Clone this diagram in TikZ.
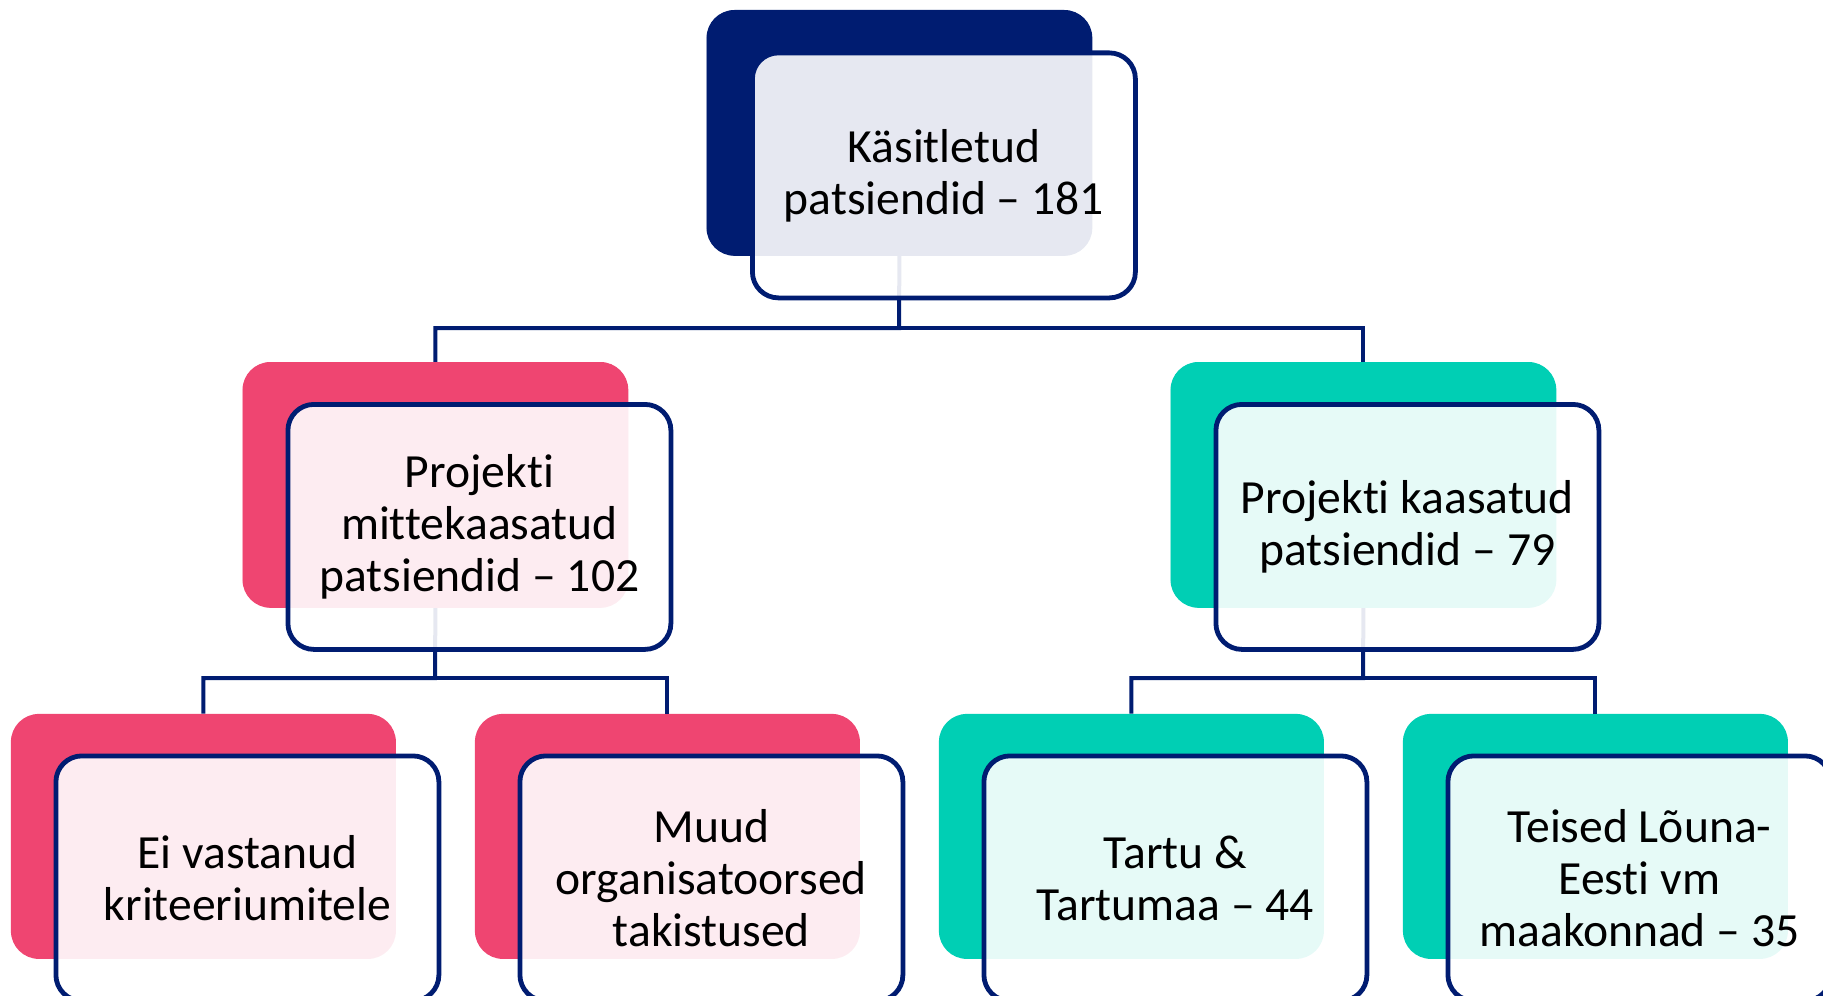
\documentclass[tikz,border=0pt]{standalone}
\usepackage{fontspec}
\setmainfont{Carlito}[Ligatures={NoCommon}]
\definecolor{navy}{HTML}{001C71}
\definecolor{pinkc}{HTML}{EF4571}
\definecolor{tealc}{HTML}{00CFB4}
\begin{document}
\begin{tikzpicture}[x=0.5pt,y=-0.5pt,
  back/.style={rounded corners=14pt, minimum width=192.5pt, minimum height=122.5pt, anchor=north west, inner sep=0pt},
  front/.style={draw=navy, line width=2.4pt, rounded corners=13pt, fill=white, fill opacity=0.9, text opacity=1,
     minimum width=191.5pt, minimum height=122.5pt, anchor=north west, inner sep=0pt, align=center,
     font=\fontsize{23.8}{26}\selectfont},
  conn/.style={draw=navy, line width=2pt}]
\useasboundingbox (0,0) rectangle (1823,995);
\clip (0,0) rectangle (1823,995);
% bar junctions
\coordinate (b0) at (899,328);
\coordinate (b1) at (435,678);
\coordinate (b2) at (1363,678);
% back boxes
\node[back, fill=navy] (c0) at (706.5,10) {};
\node[back, fill=pinkc] (c1) at (242.5,362) {};
\node[back, fill=tealc] (c2) at (1170.5,362) {};
\node[back, fill=pinkc] (c3) at (10.5,713.5) {};
\node[back, fill=pinkc] (c4) at (474.5,713.5) {};
\node[back, fill=tealc] (c5) at (938.5,713.5) {};
\node[back, fill=tealc] (c6) at (1402.5,713.5) {};
% connectors
\draw[conn] (c0.south) -- (b0) -| (c1.north);
\draw[conn] (b0) -| (c2.north);
\draw[conn] (c1.south) -- (b1) -| (c3.north);
\draw[conn] (b1) -| (c4.north);
\draw[conn] (c2.south) -- (b2) -| (c5.north);
\draw[conn] (b2) -| (c6.north);
% back boxes again, over the connector ends
\fill[navy, rounded corners=14pt] (c0.north west) rectangle (c0.south east);
\fill[pinkc, rounded corners=14pt] (c1.north west) rectangle (c1.south east);
\fill[tealc, rounded corners=14pt] (c2.north west) rectangle (c2.south east);
% front boxes
\node[front] (f0) at (750,50.5) {Käsitletud\\patsiendid – 181};
\node[front] (f1) at (285.5,402) {Projekti\\mittekaasatud\\patsiendid – 102};
\node[front] (f2) at (1213.5,402) {Projekti kaasatud\\patsiendid – 79};
\node[front] (f3) at (53.5,753.5) {Ei vastanud\\kriteeriumitele};
\node[front] (f4) at (517.5,753.5) {Muud\\organisatoorsed\\takistused};
\node[front] (f5) at (981.5,753.5) {Tartu \&\\Tartumaa – 44};
\node[front] (f6) at (1445.5,753.5) {Teised Lõuna-\\Eesti vm\\maakonnad – 35};
\end{tikzpicture}
\end{document}
